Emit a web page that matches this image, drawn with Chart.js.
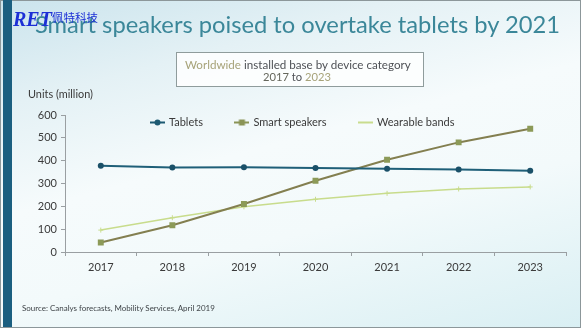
<!DOCTYPE html>
<html>
<head>
<meta charset="utf-8">
<script src="https://cdn.jsdelivr.net/npm/chart.js@4.4.1/dist/chart.umd.min.js"></script>
<style>
  html, body { margin:0; padding:0; width:586px; height:331px; overflow:hidden; background:#ffffff; }
  #card { position:absolute; left:0; top:0; width:579px; height:326px; border:1px solid #8c979a;
    background: linear-gradient(165deg, #cbe4ed 0%, #e4f1f5 22%, #f6fbfc 45%, #f3fafb 65%, #d9eff3 100%); }
  #bar { position:absolute; left:3px; top:0; width:9px; height:327px; background:#1b5f80; }
  #cv { position:absolute; left:0; top:0; }
  .t { position:absolute; white-space:nowrap; font-family: Lato, "Open Sans", sans-serif; }
  #title { left:35px; top:9px; color:#3b8799; font-size:26px; line-height:30px; }
  #logo { left:13px; top:6px; color:#1c2fd6; font-family:"Liberation Serif", serif; font-style:italic; font-weight:bold; font-size:20px; line-height:22px; }
  #logo span { font-family:"Noto Sans CJK SC", sans-serif; font-style:normal; font-weight:normal; font-size:11.5px; vertical-align:4px; }
  #box { position:absolute; left:176px; top:52px; width:246px; height:33px; border:1px solid #8f9c9c; background:rgba(253,254,254,0.92); }
  #sub1 { left:185px; top:58px; color:#4f5257; font-size:12px; line-height:14px; }
  #sub2 { left:263px; top:70px; color:#4f5257; font-size:12px; line-height:14px; }
  .kh { color:#a7a37a; }
  #units { left:28px; top:88px; color:#3a3a3a; font-size:10.5px; line-height:12px; }
  #src { left:22px; top:303px; color:#3f4448; font-size:9.5px; line-height:11px; }
</style>
</head>
<body>
<div id="card"></div>
<div id="bar"></div>
<canvas id="cv" width="586" height="331"></canvas>
<div class="t" id="title" data-w="525">Smart speakers poised to overtake tablets by 2021</div>
<div class="t" id="logo">RET<span>佩特科技</span></div>
<div id="box"></div>
<div class="t" id="sub1" data-w="226"><span class="kh">Worldwide</span> installed base by device category</div>
<div class="t" id="sub2" data-w="68"><span style="color:#65675c">2017</span> to <span class="kh">2023</span></div>
<div class="t" id="units" data-w="65">Units (million)</div>
<div class="t" id="src" data-w="193">Source: Canalys forecasts, Mobility Services, April 2019</div>
<script>
// ---- data ----
const years = ['2017', '2018', '2019', '2020', '2021', '2022', '2023'];
const tablets = [378, 370, 371, 368, 365, 361, 356];
const smartSpeakers = [42, 117, 210, 312, 404, 480, 540];
const wearableBands = [96, 150, 198, 231, 257, 276, 285];
const seriesNames = ['Tablets', 'Smart speakers', 'Wearable bands'];

// fit overlay text widths
document.querySelectorAll('[data-w]').forEach(el => {
  const target = parseFloat(el.dataset.w);
  const fs = parseFloat(getComputedStyle(el).fontSize);
  const w = el.getBoundingClientRect().width;
  if (w > 0) el.style.fontSize = (fs * target / w).toFixed(2) + 'px';
});

function legendMarker(color, kind) {
  const c = document.createElement('canvas');
  c.width = 15; c.height = 9;
  const g = c.getContext('2d');
  g.strokeStyle = color; g.lineWidth = 2;
  g.beginPath(); g.moveTo(0, 4.5); g.lineTo(15, 4.5); g.stroke();
  g.fillStyle = color;
  if (kind === 'circle') { g.beginPath(); g.arc(7.5, 4.5, 3, 0, Math.PI * 2); g.fill(); }
  if (kind === 'rect') { g.fillRect(4.5, 1.5, 6, 6); }
  return c;
}
const markers = [legendMarker('#1d5a72', 'circle'), legendMarker('#8a9456', 'rect'), legendMarker('#c9dc8e', 'none')];

const tickFont = { family: 'Lato, "Open Sans", sans-serif', size: 11 };

const legendPlace = {
  id: 'legendPlace',
  beforeInit(chart) {
    const lg = chart.legend;
    if (lg) {
      const orig = lg.fit.bind(lg);
      lg.fit = function () { orig(); this.height = 0; };
    }
  },
  afterLayout(chart) {
    const lg = chart.legend;
    const pad = lg.options.labels.padding;
    lg.top = chart.chartArea.top - pad + 2;
    lg.height = pad + 20;
    lg.bottom = lg.top + lg.height;
    lg.left += 10;
    lg.right += 10;
  }
};

new Chart(document.getElementById('cv'), {
  type: 'line',
  data: {
    labels: years,
    datasets: [
      { label: seriesNames[0], data: tablets, borderColor: '#1f5f78', backgroundColor: '#1a5068',
        borderWidth: 2, pointStyle: 'circle', pointRadius: 3, pointBorderWidth: 0, pointBackgroundColor: '#1a5068', tension: 0 },
      { label: seriesNames[1], data: smartSpeakers, borderColor: '#837f50', backgroundColor: '#8c9a58',
        borderWidth: 2, pointStyle: 'rect', pointRadius: 4.2, pointBorderWidth: 0, pointBackgroundColor: '#8c9a58', tension: 0 },
      { label: seriesNames[2], data: wearableBands, borderColor: '#c8dc8c', backgroundColor: '#c8dc8c',
        borderWidth: 1.6, pointStyle: 'cross', pointRadius: 2.5, pointBorderWidth: 1, pointBorderColor: '#c8dc8c', tension: 0 }
    ]
  },
  options: {
    responsive: false,
    animation: false,
    layout: { padding: { left: 20, right: 20, top: 115, bottom: 49 } },
    plugins: {
      legend: {
        position: 'top',
        labels: {
          usePointStyle: true,
          pointStyleWidth: 12,
          padding: 33,
          color: '#3a3a3a',
          font: tickFont,
          generateLabels(chart) {
            return chart.data.datasets.map((ds, i) => ({
              text: ds.label, pointStyle: markers[i], datasetIndex: i,
              fillStyle: ds.borderColor, strokeStyle: ds.borderColor, lineWidth: 0, hidden: false, fontColor: '#3a3a3a'
            }));
          }
        }
      },
      tooltip: { enabled: false }
    },
    scales: {
      x: {
        offset: true,
        grid: { offset: true, drawOnChartArea: false, drawTicks: true, tickLength: 4, color: '#9a9fa2' },
        border: { color: '#9a9fa2', width: 1 },
        ticks: { color: '#3a3a3a', font: tickFont, padding: 5, maxRotation: 0 },
        afterFit(s) { s.height = 30; }
      },
      y: {
        min: 0, max: 600,
        ticks: { stepSize: 100, color: '#3a3a3a', font: tickFont, padding: 4 },
        grid: { drawOnChartArea: false, drawTicks: true, tickLength: 4, color: '#9a9fa2' },
        border: { color: '#9a9fa2', width: 1 },
        afterFit(s) { s.width = 45; }
      }
    }
  },
  plugins: [legendPlace]
});
</script>
</body>
</html>
